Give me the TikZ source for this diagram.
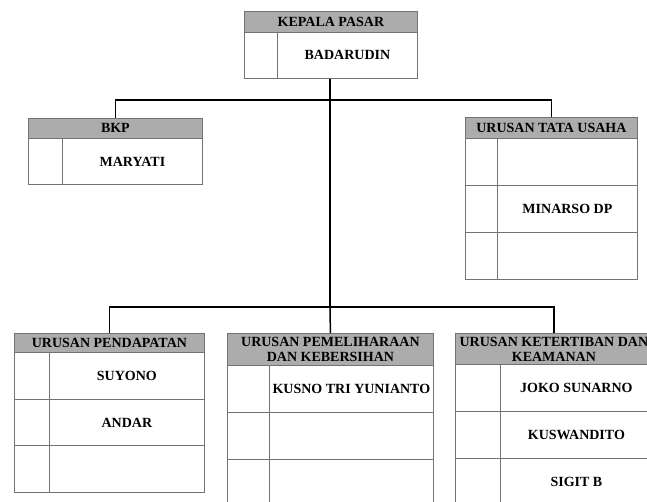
\documentclass[tikz,border=0pt]{standalone}
\usepackage{fontspec}
\setmainfont{Liberation Serif}
\usetikzlibrary{positioning}
\definecolor{hdrgray}{RGB}{172,172,172}
\definecolor{rulegray}{RGB}{115,115,115}

\begin{document}
\begin{tikzpicture}[x=1pt,y=-1pt]
    \tikzstyle{every node}+=[inner sep=0pt, font=\fontsize{14}{15}\selectfont\bfseries]
    \tikzstyle{hdr}=[draw=rulegray, fill=hdrgray, line width=0.8pt, align=center, anchor=north west]
    \tikzstyle{cell}=[draw=rulegray, line width=0.8pt, anchor=north west]
    \tikzstyle{link}=[black, line width=1.5pt]
    \useasboundingbox (0,0) rectangle (647,502);
    % kepala pasar
    \node[hdr, minimum width=173, minimum height=21] (kepala) at (244,11) {KEPALA PASAR};
    \node[cell, minimum width=33, minimum height=46] (kepala1) at (244,32) {};
    \node[cell, minimum width=140, minimum height=46] (kepala2) at (277,32) {BADARUDIN};
    % bkp
    \node[hdr, minimum width=174, minimum height=20] (bkp) at (28,118) {BKP};
    \node[cell, minimum width=34, minimum height=46] (bkp1) at (28,138) {};
    \node[cell, minimum width=140, minimum height=46] (bkp2) at (62,138) {MARYATI};
    % urusan tata usaha
    \node[hdr, minimum width=172, minimum height=21] (tata) at (465,117) {URUSAN TATA USAHA};
    \node[cell, minimum width=32, minimum height=47] (tata1) at (465,138) {};
    \node[cell, minimum width=140, minimum height=47] (tata2) at (497,138) {};
    \node[cell, minimum width=32, minimum height=47] (tata3) at (465,185) {};
    \node[cell, minimum width=140, minimum height=47] (tata4) at (497,185) {MINARSO DP};
    \node[cell, minimum width=32, minimum height=47] (tata5) at (465,232) {};
    \node[cell, minimum width=140, minimum height=47] (tata6) at (497,232) {};
    % urusan pendapatan
    \node[hdr, minimum width=190, minimum height=19] (dapat) at (14,333) {URUSAN PENDAPATAN};
    \node[cell, minimum width=35, minimum height=47] (dapat1) at (14,352) {};
    \node[cell, minimum width=155, minimum height=47] (dapat2) at (49,352) {SUYONO};
    \node[cell, minimum width=35, minimum height=46] (dapat3) at (14,399) {};
    \node[cell, minimum width=155, minimum height=46] (dapat4) at (49,399) {ANDAR};
    \node[cell, minimum width=35, minimum height=47] (dapat5) at (14,445) {};
    \node[cell, minimum width=155, minimum height=47] (dapat6) at (49,445) {};
    % urusan pemeliharaan
    \node[hdr, minimum width=206, minimum height=32] (pelihara) at (227,333) {URUSAN PEMELIHARAAN\\DAN KEBERSIHAN};
    \node[cell, minimum width=42, minimum height=47] (pelihara1) at (227,365) {};
    \node[cell, minimum width=164, minimum height=47] (pelihara2) at (269,365) {KUSNO TRI YUNIANTO};
    \node[cell, minimum width=42, minimum height=47] (pelihara3) at (227,412) {};
    \node[cell, minimum width=164, minimum height=47] (pelihara4) at (269,412) {};
    \node[cell, minimum width=42, minimum height=47] (pelihara5) at (227,459) {};
    \node[cell, minimum width=164, minimum height=47] (pelihara6) at (269,459) {};
    % urusan ketertiban
    \node[hdr, minimum width=197, minimum height=31] (tertib) at (455,333) {URUSAN KETERTIBAN DAN\\KEAMANAN};
    \node[cell, minimum width=45, minimum height=47] (tertib1) at (455,364) {};
    \node[cell, minimum width=152, minimum height=47] (tertib2) at (500,364) {JOKO SUNARNO};
    \node[cell, minimum width=45, minimum height=47] (tertib3) at (455,411) {};
    \node[cell, minimum width=152, minimum height=47] (tertib4) at (500,411) {KUSWANDITO};
    \node[cell, minimum width=45, minimum height=47] (tertib5) at (455,458) {};
    \node[cell, minimum width=152, minimum height=47] (tertib6) at (500,458) {SIGIT B};
    % connectors
    \coordinate (bus1) at (330,100);
    \coordinate (bus2) at (330,307);
    \draw[link] (kepala2.south -| bus1) -- (bus2);
    \draw[link] (bkp.north) |- (bus1) -| (tata.north);
    \draw[link] (dapat.north) |- (bus2) -| (tertib.north);
    \draw[link] (bus2) -- (pelihara.north);
\end{tikzpicture}
\end{document}
